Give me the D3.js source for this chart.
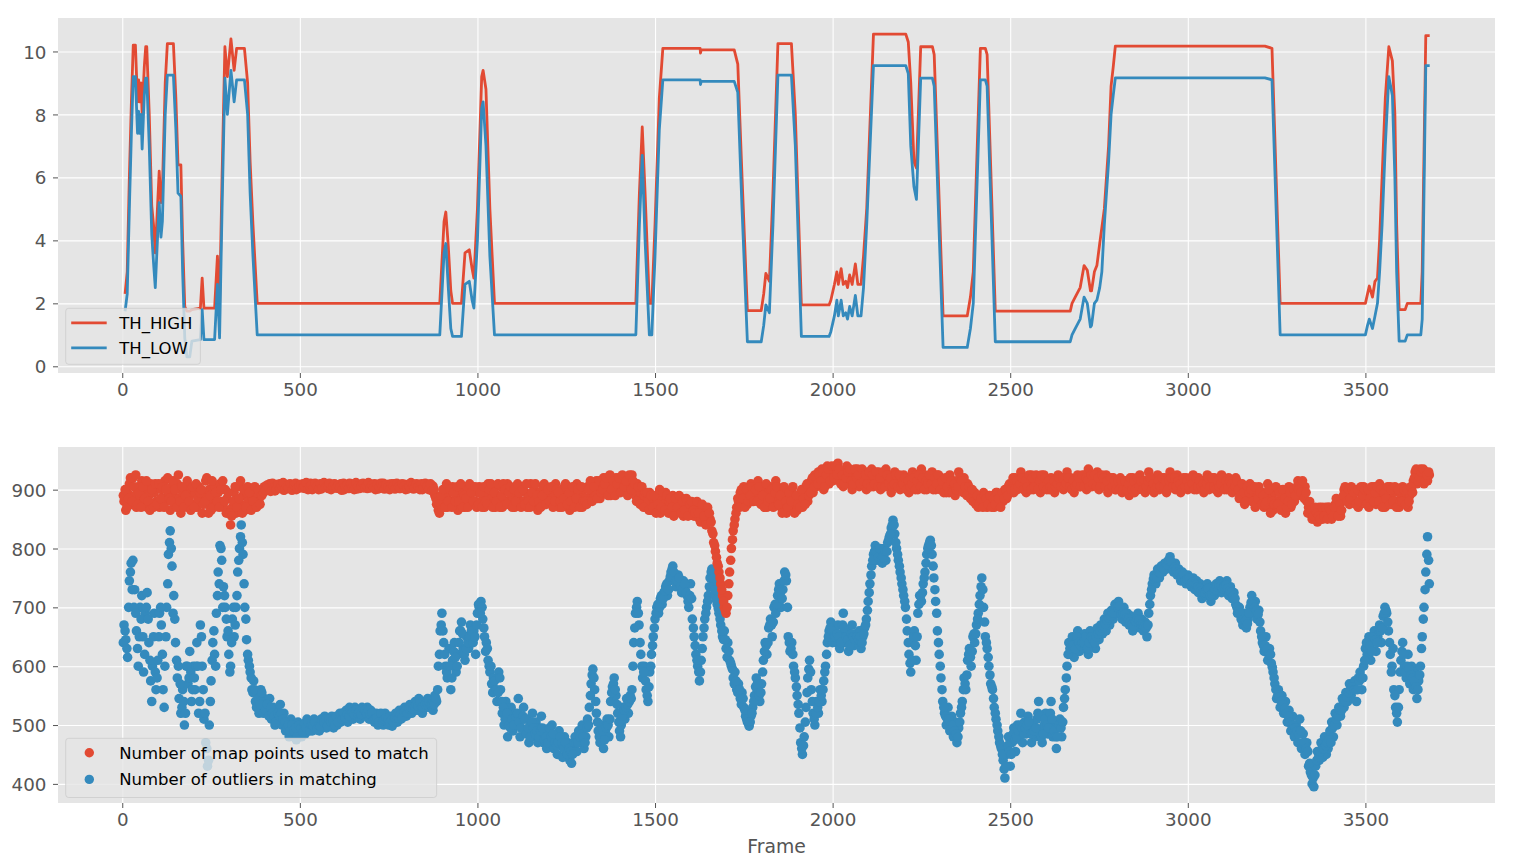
<!DOCTYPE html>
<html>
<head>
<meta charset="utf-8">
<script src="https://cdn.jsdelivr.net/npm/d3@7"></script>
<style>
  body { margin: 0; background: #fff; }
  text { font-family: 'DejaVu Sans', sans-serif; }
</style>
</head>
<body>
<svg id="chart" width="1516" height="866"></svg>
<script>
// top panel: thresholds per frame (keypoints)
const thFrames = [8,14,20,26,31,37,43,46,49,53,56,62,66,69,76,83,88,93,99,104,109,113,121,127,144,151,157,165,170,176,182,190,196,220,225,230,260,268,274,281,289,296,306,315,322,344,353,360,368,380,894,906,911,918,925,930,955,965,977,985,990,1000,1012,1016,1024,1035,1048,1446,1456,1464,1472,1484,1491,1500,1512,1522,1627,1628,1630,1723,1733,1745,1760,1799,1806,1812,1822,1832,1846,1884,1895,1912,1990,1995,2005,2012,2016,2024,2030,2037,2042,2048,2055,2064,2071,2080,2087,2096,2115,2206,2213,2220,2229,2236,2248,2281,2286,2311,2379,2388,2396,2416,2430,2435,2458,2669,2674,2683,2697,2708,2717,2726,2729,2737,2744,2752,2758,2765,2777,2784,2790,2796,3217,3237,3260,3500,3506,3511,3520,3527,3534,3540,3547,3556,3566,3576,3583,3588,3595,3612,3618,3656,3660,3670,3681];
const thHigh = [2.3,3.0,6.0,8.5,10.2,10.2,8.4,9.1,8.4,9.0,8.0,9.5,10.15,10.15,8.0,5.1,4.5,3.6,5.0,6.2,5.2,5.6,9.0,10.25,10.25,8.5,6.4,6.4,4.0,1.9,1.75,1.75,1.8,1.85,2.8,1.85,1.85,3.5,1.9,6.0,10.15,9.2,10.4,9.4,10.1,10.1,9.0,6.5,4.5,2.0,2.0,4.6,4.9,3.8,2.4,2.0,2.0,3.6,3.7,3.1,2.8,5.0,9.2,9.4,8.8,5.0,2.0,2.0,5.5,7.6,5.5,2.0,2.0,4.5,8.5,10.1,10.1,9.95,10.05,10.05,9.6,6.0,1.77,1.77,2.3,2.95,2.7,5.5,10.25,10.25,8.0,1.95,1.95,2.1,2.6,3.0,2.6,3.1,2.6,2.7,2.5,2.9,2.6,3.25,2.6,2.6,3.5,5.0,10.55,10.55,10.3,9.0,6.5,6.3,10.15,10.15,9.9,1.6,1.6,2.2,3.0,10.1,10.1,9.9,1.75,1.75,2.0,2.2,2.5,3.2,3.05,2.4,2.4,3.0,3.2,3.9,4.4,5.0,7.0,8.9,9.5,10.17,10.17,10.1,2.0,2.0,2.3,2.55,2.2,2.7,2.8,4.0,6.0,8.5,10.15,9.7,8.0,4.5,1.8,1.8,2.0,2.0,3.0,10.5,10.5];
const thLow = [1.75,2.3,5.0,7.5,9.2,9.2,7.4,8.1,7.4,8.0,6.9,8.6,9.15,9.15,7.0,4.2,3.3,2.5,4.0,5.2,4.1,4.6,8.0,9.25,9.25,7.5,5.5,5.4,3.0,0.9,0.3,0.3,0.8,0.85,1.8,0.85,0.85,2.6,0.9,5.0,9.15,8.0,9.4,8.4,9.1,9.1,8.0,5.5,3.5,1.0,1.0,3.6,3.9,2.5,1.2,0.95,0.95,2.6,2.7,2.1,1.85,4.0,8.2,8.4,7.0,3.5,1.0,1.0,4.5,6.7,4.0,1.0,1.0,3.5,7.5,9.1,9.1,8.95,9.05,9.05,8.7,5.0,0.78,0.78,1.3,1.95,1.7,4.5,9.25,9.25,7.0,0.95,0.95,1.1,1.6,2.1,1.6,2.1,1.6,1.7,1.5,1.9,1.6,2.25,1.6,1.6,2.5,4.5,9.55,9.55,9.3,7.0,5.7,5.3,9.15,9.15,8.9,0.6,0.6,1.2,2.0,9.1,9.1,8.9,0.78,0.78,1.0,1.2,1.5,2.2,2.0,1.25,1.3,2.0,2.1,2.5,3.0,4.5,6.5,8.0,8.6,9.16,9.16,9.1,1.0,1.0,1.3,1.5,1.2,1.6,2.0,3.0,4.5,7.0,9.2,8.6,6.0,3.0,0.8,0.8,1.0,1.0,1.5,9.55,9.55];

// bottom panel: values read every 5 frames (5 .. 3680), one row = 100 frames
const frames = d3.range(5, 3681, 5);
const mapPoints = [
  880,865,895,910,875,920,890,870,905,885,915,880,900,870,890,910,875,895,880,905,
  870,900,885,915,880,895,865,905,890,875,910,885,860,895,880,905,870,890,900,875,
  895,870,905,880,860,890,915,875,900,865,885,905,875,895,910,880,870,900,885,860,
  840,870,895,860,880,905,875,890,865,895,880,870,885,900,875,890,880,895,900,905,
  905,900,910,903,908,898,906,902,910,904,899,907,903,909,901,906,904,900,908,903,
  905,910,902,907,904,911,900,906,909,903,907,901,908,905,910,902,906,904,909,903,
  907,902,910,905,900,908,904,911,903,906,909,901,907,905,910,903,908,902,906,909,
  904,910,906,901,908,904,911,905,902,909,906,903,910,905,908,902,907,904,909,903,
  906,910,904,901,908,903,909,905,900,907,903,909,904,900,906,890,875,865,880,870,
  885,900,870,895,880,905,875,890,865,900,880,895,870,905,885,890,875,900,880,895,
  905,880,890,870,895,910,875,885,900,870,890,880,905,870,895,880,910,875,890,885,
  870,900,885,875,905,880,895,870,890,910,875,900,880,865,895,885,905,875,890,880,
  900,875,890,910,880,870,895,885,905,875,890,865,900,880,895,910,875,890,870,900,
  885,905,880,895,910,890,915,900,885,910,920,895,905,915,890,910,900,920,895,905,
  915,900,920,895,910,905,925,900,890,910,885,895,875,890,870,880,895,865,885,870,
  880,890,860,885,875,895,870,880,865,890,875,860,880,870,885,855,875,865,880,860,
  870,855,875,865,850,870,860,845,865,855,850,830,810,795,775,760,740,720,700,690,
  720,760,800,830,850,870,880,895,880,905,890,875,895,910,880,900,885,915,890,905,
  880,900,870,895,905,875,890,915,880,895,870,900,885,860,890,875,900,870,885,865,
  880,895,870,890,905,880,900,915,895,925,905,930,910,935,900,920,940,910,930,915,
  935,920,945,915,930,905,925,940,910,920,900,930,915,935,905,925,910,930,900,920,
  915,935,905,925,910,930,900,920,915,935,905,925,895,915,930,905,920,900,915,925,
  905,920,895,915,930,905,925,900,915,935,910,925,900,920,905,930,915,900,925,910,
  920,900,915,895,910,925,900,915,890,910,930,905,900,920,895,910,890,900,880,895,
  885,870,890,875,895,880,870,890,875,885,870,895,880,875,890,880,900,885,905,895,
  910,895,920,900,915,930,905,920,895,915,910,925,900,915,905,920,895,910,925,905,
  915,900,920,910,895,915,925,905,920,900,915,930,905,920,910,895,915,925,905,920,
  910,925,900,935,915,905,925,910,930,900,920,915,905,925,895,915,905,920,900,915,
  905,920,895,910,900,915,890,905,920,895,910,900,925,905,915,895,910,930,900,915,
  895,910,925,900,915,905,920,895,910,930,905,915,900,925,910,895,915,905,920,900,
  915,905,925,910,900,920,905,915,895,910,925,900,915,905,920,910,895,915,925,905,
  915,900,920,905,895,910,920,900,885,905,890,875,900,885,910,880,895,870,890,905,
  880,895,870,890,910,875,885,865,895,880,900,870,890,875,860,885,905,870,890,880,
  900,915,890,910,895,905,880,870,860,850,865,855,845,870,860,850,865,855,870,860,
  850,865,875,860,870,855,880,900,885,895,875,905,890,880,900,870,895,885,905,880,
  895,870,900,885,905,875,890,910,880,895,870,900,885,905,875,895,880,900,870,890,
  905,880,895,870,890,900,915,930,910,925,935,920,910,930,915,925
];
const outliers = [
  670,645,615,745,775,780,730,660,600,700,720,590,690,725,640,575,600,690,560,610,
  690,670,560,600,700,790,830,770,720,640,580,545,520,560,500,600,570,625,540,600,
  560,640,520,670,600,510,470,430,500,575,640,620,690,760,805,780,735,700,650,620,
  600,680,650,700,760,800,840,790,700,645,610,590,560,575,540,555,520,560,530,545,
  540,520,545,510,530,500,525,505,535,500,520,490,505,480,510,485,500,475,505,490,
  480,500,485,510,495,505,490,510,495,505,490,510,500,515,495,505,500,515,495,510,
  500,515,505,520,510,525,505,530,520,510,530,515,525,510,530,520,515,530,510,525,
  515,505,520,500,515,510,500,520,505,500,515,498,510,520,505,525,510,520,530,515,
  525,535,520,530,540,525,545,535,520,540,530,545,530,540,525,550,540,600,660,690,
  640,600,580,630,560,610,640,590,620,660,675,630,610,650,630,670,640,660,620,690,
  700,710,680,650,640,610,590,570,580,560,540,590,560,520,500,540,480,510,530,490,
  520,500,545,480,510,530,490,510,470,500,520,480,505,470,495,515,470,490,460,485,
  470,500,460,480,450,490,465,445,480,455,470,440,435,460,480,455,490,470,500,460,
  480,510,530,570,595,560,520,490,470,500,460,490,510,480,540,565,580,550,520,490,
  500,530,510,545,520,550,560,640,690,710,670,620,580,600,560,540,590,620,650,680,
  700,690,715,705,725,735,720,745,760,770,750,735,755,740,725,745,730,720,700,740,
  680,650,620,600,575,610,650,680,700,720,750,765,740,720,705,690,670,650,660,630,
  640,610,600,580,590,560,570,545,555,530,515,505,498,515,530,550,580,560,540,570,
  610,640,620,665,680,650,700,690,720,740,700,730,760,745,650,625,640,600,580,550,
  520,470,450,480,530,580,610,560,520,500,540,520,560,540,575,600,640,660,675,640,
  660,640,670,630,655,690,640,660,625,650,670,635,655,640,660,630,650,665,680,710,
  740,770,790,805,780,800,790,775,800,780,810,820,835,848,825,800,780,760,740,720,
  700,660,620,590,640,660,610,690,720,710,740,760,790,805,814,790,750,710,660,620,
  580,540,520,500,530,490,515,480,505,470,495,520,540,580,560,610,630,600,650,640,
  670,690,720,750,700,650,630,600,570,560,530,510,490,470,460,440,410,450,480,430,
  470,495,455,500,480,520,470,505,485,515,490,470,500,480,510,540,490,470,500,520,
  485,505,540,480,500,460,495,510,480,530,560,600,640,620,650,615,640,660,625,645,
  630,655,640,620,660,635,650,630,665,645,670,655,680,660,690,670,695,680,705,690,
  710,695,680,700,675,690,670,685,660,680,670,690,665,680,660,675,650,690,720,740,
  755,740,765,750,770,760,775,765,780,786,770,760,775,755,765,745,760,750,740,755,
  745,735,750,730,745,725,740,715,730,720,740,725,710,735,720,740,730,745,725,740,
  730,745,720,735,715,725,705,690,700,680,670,690,665,680,700,720,690,710,680,695,
  660,640,625,650,610,630,605,590,570,545,560,530,550,520,540,505,525,490,515,480,
  500,470,510,460,485,450,470,430,420,400,395,430,455,440,470,445,480,450,460,490,
  505,480,520,500,530,515,545,530,555,540,570,550,560,575,540,580,590,560,600,630,
  620,650,610,640,660,625,650,670,640,685,700,690,660,620,600,560,530,505,560,610,
  640,600,580,620,570,600,560,590,545,575,600,650,700,760,820,740
];

// second reading, frames 3, 8, 13 ... 3678 (fills the dense bands)
const midFrames = d3.range(3, 3679, 5);
const mapPointsMid = [
  890,900,870,885,920,880,905,925,875,895,870,905,885,915,880,865,900,870,910,875,
  910,885,905,870,900,920,885,880,915,900,870,925,880,905,870,890,915,880,865,905,
  870,910,885,895,900,875,880,920,860,890,915,870,895,880,870,900,915,880,860,895,
  860,855,880,905,870,885,915,860,900,870,905,895,865,880,905,870,900,875,890,895,
  899,908,903,897,911,904,900,909,902,907,912,900,906,903,910,899,908,911,902,906,
  909,903,906,912,900,905,908,902,911,906,900,910,903,912,904,907,911,900,905,910,
  903,908,904,899,911,905,908,902,910,904,900,912,906,902,906,911,904,907,912,903,
  908,903,900,909,904,911,906,901,908,904,900,910,906,901,911,905,902,910,906,900,
  901,905,912,907,903,910,905,900,910,904,911,906,900,910,898,900,885,880,860,890,
  900,870,910,880,900,870,895,880,905,880,910,870,890,885,870,910,895,880,905,870,
  875,895,870,905,880,875,900,910,870,895,880,910,870,890,910,900,875,895,905,870,
  900,880,910,895,870,900,875,910,880,870,895,880,910,890,880,870,890,910,875,900,
  880,905,870,880,900,895,880,870,885,910,875,895,880,905,870,885,900,870,905,880,
  880,875,900,915,880,905,890,885,915,895,900,910,920,890,925,900,915,890,910,920,
  895,925,905,915,890,925,900,915,910,880,905,875,905,870,895,895,865,890,870,890,
  860,875,900,870,895,865,890,860,885,870,855,885,870,890,860,880,865,885,855,875,
  880,865,860,880,860,845,875,855,840,870,860,845,825,805,785,770,750,730,710,695,
  700,740,780,815,840,860,885,870,900,885,870,900,880,890,905,880,900,880,905,875,
  890,870,910,880,885,900,870,895,905,875,890,860,905,880,870,895,880,905,860,890,
  875,870,900,885,875,910,890,895,920,905,920,910,925,915,930,905,925,935,915,940,
  920,940,925,935,910,925,910,920,930,935,915,910,935,920,925,910,935,915,925,910,
  930,905,925,910,930,905,920,905,930,905,925,910,920,905,910,925,905,925,905,910,
  920,900,915,905,910,920,900,915,925,905,920,900,915,910,925,910,900,920,910,925,
  900,915,895,920,905,895,915,895,910,900,905,920,915,895,905,890,905,885,900,880,
  875,890,875,885,870,890,885,875,890,870,885,875,895,885,870,895,885,900,890,910,
  900,920,900,915,905,910,920,900,915,905,925,900,920,905,925,900,915,925,905,920,
  900,915,905,900,915,905,910,920,905,920,905,910,920,905,900,915,905,910,920,905,
  925,905,920,915,905,925,910,925,905,920,905,925,920,905,915,900,920,905,915,900,
  915,900,915,900,915,900,910,920,900,915,900,920,905,915,900,915,905,915,920,900,
  910,900,905,915,905,920,905,915,900,915,920,905,920,905,915,910,900,920,905,915,
  905,920,910,900,920,905,915,905,910,900,910,920,905,920,905,900,915,905,910,920,
  900,915,905,915,910,900,905,915,900,890,910,895,880,905,895,900,880,905,875,885,
  895,875,890,875,880,900,860,880,875,905,875,895,865,900,885,870,880,895,875,900,
  890,905,900,895,915,885,895,860,880,865,855,870,860,855,850,870,855,870,850,870,
  865,855,870,885,855,875,865,890,905,880,900,885,900,895,875,900,880,905,890,900,
  875,900,885,905,880,895,905,880,900,870,895,885,905,875,900,880,905,870,900,880,
  880,900,875,900,880,905,895,920,935,915,920,930,935,915,925,930
];
const outliersMid = [
  640,660,630,700,760,730,700,690,630,650,680,650,620,700,680,610,540,650,590,580,
  650,700,620,530,650,740,810,800,690,680,610,600,570,530,540,520,600,580,590,560,
  580,600,600,540,650,560,520,460,440,540,610,660,600,720,740,800,700,720,680,660,
  590,640,700,670,720,780,820,810,740,680,620,600,580,555,560,530,545,535,555,520,
  525,535,515,530,520,515,505,520,515,520,510,505,495,500,490,500,490,495,480,500,
  495,488,502,495,505,490,500,498,505,492,500,498,508,505,510,498,510,505,508,500,
  515,505,520,510,520,512,518,515,525,522,518,525,520,522,518,528,525,520,525,518,
  520,510,510,512,505,520,508,510,512,510,505,508,505,512,515,512,518,512,522,525,
  520,528,530,528,532,535,532,540,530,530,535,538,540,535,535,535,545,560,620,670,
  660,620,590,600,600,580,625,615,600,640,660,655,620,630,640,650,660,640,650,670,
  705,690,700,665,625,630,600,600,555,575,560,555,580,540,530,510,520,500,495,510,
  500,515,520,505,495,515,510,485,495,480,505,495,485,490,480,490,495,475,480,470,
  495,480,485,470,465,470,480,470,460,470,450,460,455,450,470,470,470,480,485,480,
  470,495,500,550,585,580,540,505,480,485,490,475,495,500,510,555,570,560,535,505,
  480,515,525,530,535,540,545,600,665,700,690,640,600,590,575,550,565,600,635,665,
  690,705,700,720,715,728,740,730,752,765,760,745,745,750,735,730,740,725,710,720,
  715,665,635,610,590,590,630,665,690,710,735,760,750,730,712,698,680,660,645,645,
  615,625,605,595,570,575,555,560,535,545,525,510,505,505,520,540,565,570,550,555,
  590,625,635,640,670,670,675,705,705,730,725,715,745,755,700,640,630,620,590,565,
  535,495,460,465,505,555,595,590,540,510,520,530,540,550,560,590,620,650,665,660,
  650,650,655,650,640,670,665,650,645,635,655,650,645,650,645,650,640,655,670,695,
  725,755,780,795,795,785,800,785,785,795,795,815,825,840,840,810,790,770,750,730,
  710,680,640,605,610,650,635,650,705,720,725,750,775,800,810,805,770,730,690,640,
  600,560,530,515,510,510,500,500,490,485,480,505,530,560,570,585,620,615,625,655,
  655,680,705,735,730,675,640,615,585,565,545,520,500,480,465,450,425,430,465,455,
  450,485,475,480,490,500,495,485,495,500,505,485,485,490,495,520,515,480,485,510,
  500,495,520,510,490,480,480,500,495,505,545,580,620,630,635,635,630,650,640,635,
  640,640,650,630,640,650,645,640,650,655,660,665,668,672,678,682,685,690,690,700,
  700,702,688,690,688,682,680,675,672,668,676,680,678,672,670,668,665,670,705,730,
  748,750,752,760,758,768,765,772,772,778,778,765,768,765,760,758,752,756,745,748,
  750,740,742,740,738,735,732,728,725,725,730,732,720,722,728,730,735,738,735,732,
  735,738,732,728,725,720,715,700,695,690,678,680,678,672,690,708,705,700,695,688,
  675,650,635,635,630,620,620,598,580,560,550,548,540,535,528,520,515,505,500,500,
  495,490,485,490,470,470,460,455,435,415,410,415,440,445,455,460,460,465,470,475,
  470,495,500,510,515,525,525,540,540,548,555,560,565,560,560,560,575,580,580,610,
  640,630,635,625,650,645,640,660,660,665,690,695,675,640,590,630,550,520,530,590,
  625,620,590,600,595,585,580,575,565,560,585,630,680,730,790,780
];

const xTicks = [0, 500, 1000, 1500, 2000, 2500, 3000, 3500];
const thTicks = [0, 2, 4, 6, 8, 10];
const matchTicks = [400, 500, 600, 700, 800, 900];
const thLabels = ['TH_HIGH', 'TH_LOW'];
const matchLabels = ['Number of map points used to match', 'Number of outliers in matching'];

const red = '#E24A33';
const blue = '#348ABD';
const left = 58;
const right = 1495;

const svg = d3.select('#chart');

// matplotlib style 5% margins
function padExtent(ext) {
  const r = ext[1] - ext[0];
  return [ext[0] - 0.05 * r, ext[1] + 0.05 * r];
}

const allFrames = thFrames.concat(frames, midFrames);
const xScale = d3
  .scaleLinear()
  .domain(padExtent(d3.extent(allFrames)))
  .range([left, right]);

const yTop = d3
  .scaleLinear()
  .domain(padExtent(d3.extent(thHigh.concat(thLow))))
  .range([373, 18]);

const yBottom = d3
  .scaleLinear()
  .domain(padExtent(d3.extent(mapPoints.concat(outliers, mapPointsMid, outliersMid))))
  .range([803, 447]);

function drawPanel(id, yScale, yTicks) {
  const top = yScale.range()[1];
  const bottom = yScale.range()[0];

  svg
    .append('rect')
    .attr('x', left)
    .attr('y', top)
    .attr('width', right - left)
    .attr('height', bottom - top)
    .attr('fill', '#E5E5E5');

  svg
    .append('clipPath')
    .attr('id', id)
    .append('rect')
    .attr('x', left)
    .attr('y', top)
    .attr('width', right - left)
    .attr('height', bottom - top);

  // white grid
  const gx = svg
    .append('g')
    .attr('transform', 'translate(0,' + bottom + ')')
    .call(d3.axisBottom(xScale).tickValues(xTicks).tickSize(-(bottom - top)).tickFormat(''));
  const gy = svg
    .append('g')
    .attr('transform', 'translate(' + left + ',0)')
    .call(d3.axisLeft(yScale).tickValues(yTicks).tickSize(-(right - left)).tickFormat(''));
  [gx, gy].forEach((g) => {
    g.select('.domain').remove();
    g.selectAll('line').attr('stroke', '#ffffff').attr('stroke-width', 1.1);
  });

  // ticks and labels
  const ax = svg
    .append('g')
    .attr('transform', 'translate(0,' + bottom + ')')
    .call(d3.axisBottom(xScale).tickValues(xTicks).tickFormat(d3.format('d')).tickSize(5).tickPadding(5.5));
  const ay = svg
    .append('g')
    .attr('transform', 'translate(' + left + ',0)')
    .call(d3.axisLeft(yScale).tickValues(yTicks).tickFormat(d3.format('d')).tickSize(5).tickPadding(6.5));
  [ax, ay].forEach((g) => {
    g.select('.domain').remove();
    g.selectAll('line').attr('stroke', '#555555').attr('stroke-width', 1);
    g.selectAll('text')
      .attr('fill', '#555555')
      .style('font-size', '18.3px')
      .style('font-family', 'DejaVu Sans');
  });
  ay.selectAll('text').attr('dy', '0.36em');
}

function drawLegend(x, y, rowGap, labels, drawHandle) {
  const g = svg.append('g');
  const box = g
    .append('rect')
    .attr('x', x)
    .attr('y', y)
    .attr('height', rowGap * 2 + 6)
    .attr('rx', 3)
    .attr('fill', '#E5E5E5')
    .attr('fill-opacity', 0.8)
    .attr('stroke', '#cccccc')
    .attr('stroke-opacity', 0.8)
    .attr('stroke-width', 1);

  let maxEnd = 0;
  labels.forEach((label, i) => {
    const cy = y + 14.5 + i * rowGap;
    drawHandle(g, x, cy, i);
    const t = g
      .append('text')
      .attr('x', x + 53.5)
      .attr('y', cy + 6)
      .attr('fill', '#000000')
      .style('font-size', '16.5px')
      .text(label);
    maxEnd = Math.max(maxEnd, x + 53.5 + t.node().getComputedTextLength());
  });
  box.attr('width', maxEnd + 8 - x);
}

// ---- top panel: thresholds
drawPanel('clip-top', yTop, thTicks);

const thSeries = [thHigh, thLow];
const thColors = [red, blue];
const topPlot = svg.append('g').attr('clip-path', 'url(#clip-top)');
thSeries.forEach((values, k) => {
  const line = d3
    .line()
    .x((d, i) => xScale(thFrames[i]))
    .y((d) => yTop(d));
  topPlot
    .append('path')
    .datum(values)
    .attr('d', line)
    .attr('fill', 'none')
    .attr('stroke', thColors[k])
    .attr('stroke-width', 2.8)
    .attr('stroke-linejoin', 'round');
});

drawLegend(65.7, 308.3, 25, thLabels, (g, x, cy, i) => {
  g.append('line')
    .attr('x1', x + 5.5)
    .attr('x2', x + 41)
    .attr('y1', cy)
    .attr('y2', cy)
    .attr('stroke', thColors[i])
    .attr('stroke-width', 2.8);
});

// ---- bottom panel: matching points
drawPanel('clip-bottom', yBottom, matchTicks);

const bottomPlot = svg.append('g').attr('clip-path', 'url(#clip-bottom)');
const scatterSets = [
  [outliers, frames, blue],
  [outliersMid, midFrames, blue],
  [mapPoints, frames, red],
  [mapPointsMid, midFrames, red],
];
scatterSets.forEach(([values, xs, color]) => {
  bottomPlot
    .append('g')
    .selectAll('circle')
    .data(values)
    .enter()
    .append('circle')
    .attr('cx', (d, i) => xScale(xs[i]))
    .attr('cy', (d) => yBottom(d))
    .attr('r', 4.8)
    .attr('fill', color);
});

drawLegend(65.7, 738.3, 26.6, matchLabels, (g, x, cy, i) => {
  g.append('circle')
    .attr('cx', x + 23.6)
    .attr('cy', cy)
    .attr('r', 4.7)
    .attr('fill', i === 0 ? red : blue);
});

svg
  .append('text')
  .attr('x', (left + right) / 2)
  .attr('y', 853)
  .attr('text-anchor', 'middle')
  .attr('fill', '#555555')
  .style('font-size', '18.8px')
  .text('Frame');
</script>
</body>
</html>
